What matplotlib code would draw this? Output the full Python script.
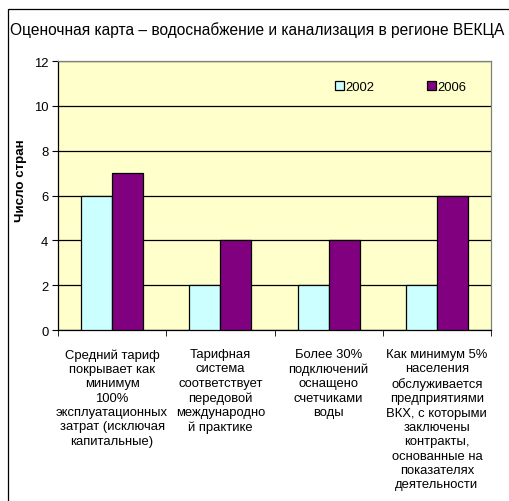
import matplotlib
matplotlib.use("Agg")
import matplotlib.pyplot as plt
from matplotlib.patches import Rectangle
import numpy as np

plt.rcParams['font.family'] = ['Liberation Sans', 'DejaVu Sans']

categories = [
    "Средний тариф\nпокрывает как\nминимум\n100%\nэксплуатационных\nзатрат (исключая\nкапитальные)",
    "Тарифная\nсистема\nсоответствует\nпередовой\nмеждународно\nй практике",
    "Более 30%\nподключений\nоснащено\nсчетчиками\nводы",
    "Как минимум 5%\nнаселения\nобслуживается\nпредприятиями\nВКХ, с которыми\nзаключены\nконтракты,\nоснованные на\nпоказателях\nдеятельности",
]
series_names = ["2002", "2006"]
values_2002 = [6, 2, 2, 2]
values_2006 = [7, 4, 4, 6]
title = "Оценочная карта – водоснабжение и канализация в регионе ВЕКЦА"
ylabel = "Число стран"

W, H = 509, 502
fig = plt.figure(figsize=(W/100, H/100), dpi=100)
fig.patch.set_facecolor('white')

# outer frame
fig.patches.append(Rectangle((8/W, -0.1), 1.2, (H-10)/H + 0.1, transform=fig.transFigure,
                             fill=False, edgecolor='black', linewidth=0.9))

ax = fig.add_axes([58/W, (H-331)/H, (491-58)/W, (331-62)/H])
ax.set_facecolor('#FFFFCC')

x = np.arange(len(categories))
w = 0.286
b1 = ax.bar(x - w/2, values_2002, w, color='#CCFFFF', edgecolor='black', linewidth=0.9,
            label=series_names[0], zorder=3)
b2 = ax.bar(x + w/2, values_2006, w, color='#800080', edgecolor='black', linewidth=0.9,
            label=series_names[1], zorder=3)

ax.set_xlim(-0.5, len(categories) - 0.5)
ax.set_ylim(0, 12)
ax.set_yticks(range(0, 13, 2))
ax.yaxis.grid(True, color='black', linewidth=0.9, zorder=1)
ax.set_axisbelow(True)

ax.set_xticks(x)
ax.set_xticklabels(categories, fontsize=9.4, linespacing=1.26, va='top')
ax.tick_params(axis='x', length=0, pad=13)
ax.set_xticks(np.arange(-0.5, len(categories) + 0.5, 1), minor=True)
ax.tick_params(axis='x', which='minor', length=4, direction='out', color='black')
ax.tick_params(axis='y', length=4, direction='out', labelsize=9.4, pad=3)

for s in ['top', 'right']:
    ax.spines[s].set_color('#808080')
    ax.spines[s].set_linewidth(0.9)
for s in ['left', 'bottom']:
    ax.spines[s].set_color('black')
    ax.spines[s].set_linewidth(0.9)

ax.set_ylabel(ylabel, fontsize=9.6, fontweight='bold')
ax.yaxis.set_label_coords(-0.072, 0.558)

leg = ax.legend(loc='upper right', bbox_to_anchor=(0.97, 0.97), ncol=2, frameon=False,
                fontsize=9.4, handlelength=0.7, handleheight=0.7, handletextpad=0.1,
                columnspacing=4.0)

fig.text(257/W, (H-30)/H, title, ha='center', va='center', fontsize=11.2)

fig.savefig('out.png', dpi=100)
